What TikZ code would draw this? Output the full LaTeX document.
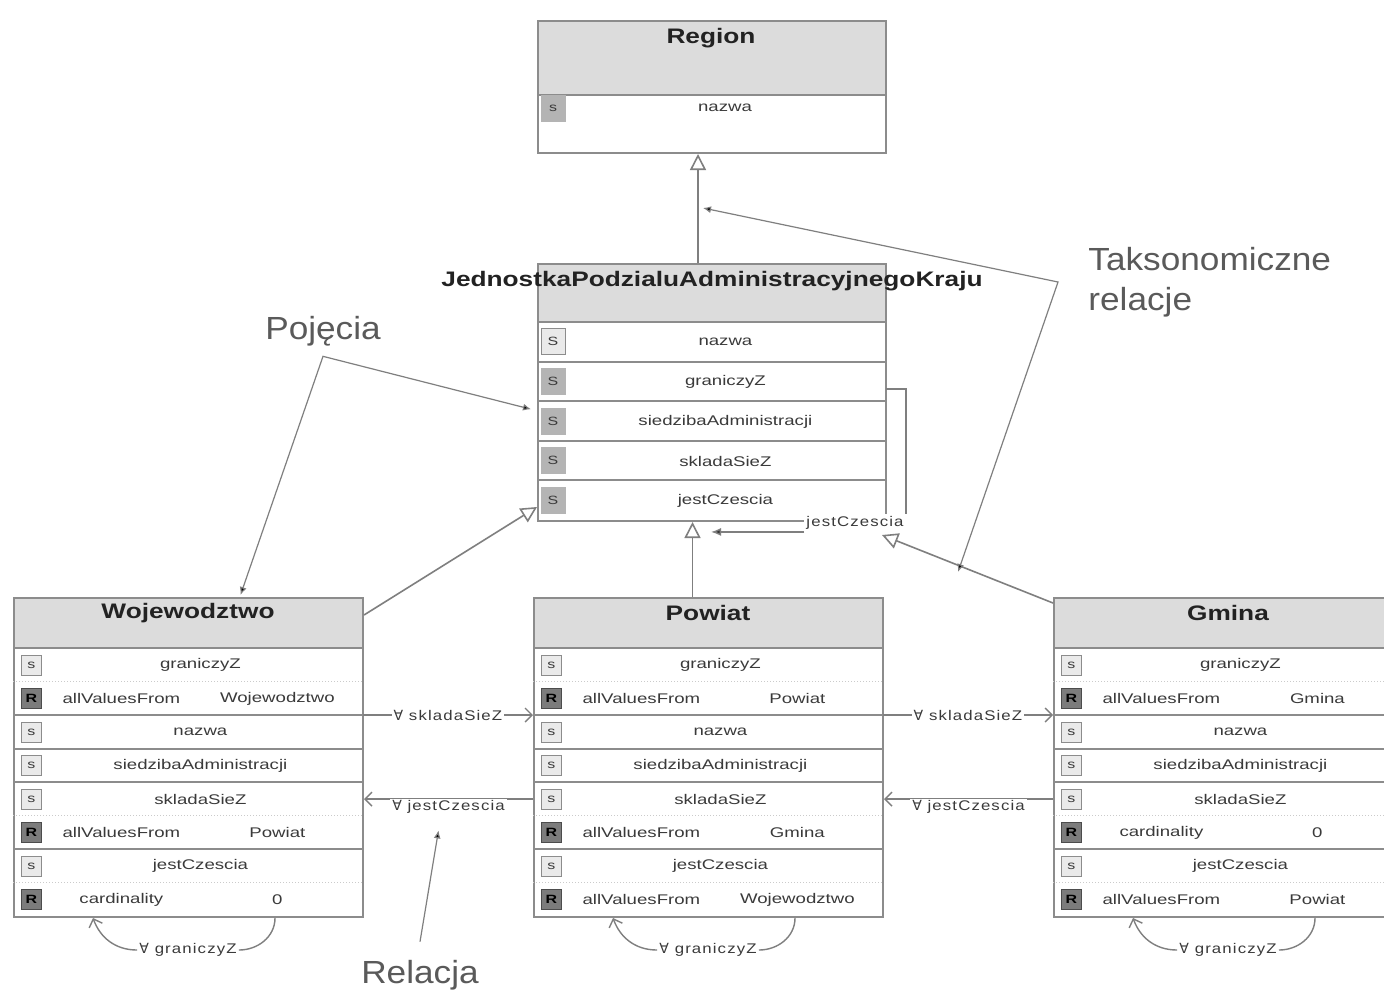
\documentclass[tikz,border=0pt]{standalone}
\usepackage{fontspec}
\setmainfont{Liberation Sans}
\newfontfamily\rowfont[FakeStretch=1.33]{Liberation Sans}
\newfontfamily\titlefont[FakeStretch=1.25]{Liberation Sans}
\newfontfamily\notefont[FakeStretch=1.1]{Liberation Sans}
\newfontfamily\relfont[FakeStretch=1.2,LetterSpace=8]{Liberation Sans}
\newfontfamily\symfont{DejaVu Sans}
\newcommand{\forallsym}{{\symfont ∀}}
\usetikzlibrary{arrows.meta, positioning, calc}
\definecolor{boxline}{HTML}{8C8C8C}
\definecolor{headfill}{HTML}{DCDCDC}
\definecolor{iconlight}{HTML}{EAEAEA}
\definecolor{iconmidfill}{HTML}{B4B4B4}
\definecolor{icondark}{HTML}{7C7C7C}
\definecolor{txtgray}{HTML}{3A3A3A}
\definecolor{titlegray}{HTML}{222222}
\definecolor{notegray}{HTML}{5A5A5A}
\definecolor{linegray}{HTML}{7F7F7F}
\tikzset{
  headbox/.style={
    rectangle, fill=headfill, inner sep=0pt, anchor=north west
  },
  classbox/.style={
    rectangle, draw=boxline, line width=1pt, inner sep=0pt, anchor=north west
  },
  classtitle/.style={
    font=\titlefont\fontsize{10.5}{12}\selectfont\bfseries, text=titlegray, inner sep=0pt
  },
  rowtxt/.style={
    font=\rowfont\fontsize{7}{8}\selectfont, text=txtgray, inner sep=0pt
  },
  rowbox/.style={
    rowtxt, rectangle, minimum width=162pt, minimum height=16.75pt, anchor=north west
  },
  centrow/.style={
    rowbox, minimum width=160pt, minimum height=19.8pt
  },
  iconbox/.style={
    rectangle, draw=boxline, fill=iconlight, minimum width=10pt, minimum height=10pt,
    inner sep=0pt, font=\rowfont\fontsize{6}{6}\selectfont, text=txtgray
  },
  iconmid/.style={
    iconbox, fill=iconmidfill, draw=iconmidfill
  },
  iconres/.style={
    iconbox, fill=icondark, draw=black!70, text=black, font=\rowfont\fontsize{6}{6}\selectfont\bfseries
  },
  sepline/.style={
    draw=boxline, line width=1pt
  },
  subsep/.style={
    draw=boxline!45, line width=0.5pt, densely dotted
  },
  genarrow/.style={
    draw=linegray, line width=0.8pt, -{Triangle[open, length=8pt, width=8pt]}
  },
  relarrow/.style={
    draw=linegray, line width=0.7pt, -{Straight Barb[length=3.5pt, width=7pt]}
  },
  relline/.style={
    draw=linegray, line width=0.7pt
  },
  selfarrow/.style={
    draw=linegray, line width=0.7pt, -{Latex[length=5pt, width=4pt, fill=black!80]}
  },
  rellbl/.style={
    font=\relfont\fontsize{7}{8}\selectfont, text=txtgray, fill=white, inner sep=1pt
  },
  notelbl/.style={
    font=\notefont\fontsize{16}{20}\selectfont, text=notegray, align=left, inner sep=0pt
  },
  notearrow/.style={
    draw=linegray, line width=0.6pt, {Latex[length=4pt, width=3.5pt, fill=black]}-{Latex[length=4pt, width=3.5pt, fill=black]}
  },
  noteptr/.style={
    draw=linegray, line width=0.6pt, -{Latex[length=4pt, width=3.5pt, fill=black]}
  }
}

\begin{document}
\begin{tikzpicture}[x=0.5pt, y=-0.5pt]
  \fill[white] (0,0) rectangle (1384,997);
  \useasboundingbox (0,0) rectangle (1384,997);
  \clip (0,0) rectangle (1384,997);

  % Region
  \node[headbox, minimum width=174pt, minimum height=37pt] (regionHead) at (537,20) {};
  \node[classbox, minimum width=174pt, minimum height=66pt] (region) at (537,20) {};
  \node[classtitle] (regionTitle) at (711,38) {Region};
  \draw[sepline] (region.west |- regionHead.south) -- (region.east |- regionHead.south);
  \node[iconmid, minimum width=12pt, minimum height=13pt] (regionIcon) at (553,108) {s};
  \node[rowtxt] (regionRow) at (725,108) {nazwa};

  % JednostkaPodzialuAdministracyjnegoKraju
  \node[headbox, minimum width=174pt, minimum height=29.5pt] (unitHead) at (537,263) {};
  \node[classbox, minimum width=174pt, minimum height=128.5pt] (unit) at (537,263) {};
  \node[classtitle] (unitTitle) at (712,281) {JednostkaPodzialuAdministracyjnegoKraju};
  \foreach \i/\ic/\txt in {1/iconbox/nazwa, 2/iconmid/graniczyZ, 3/iconmid/siedzibaAdministracji,
                           4/iconmid/skladaSieZ, 5/iconmid/jestCzescia} {
    \node[centrow] (unit-r\i) at (565,282.4+39.6*\i) {\txt};
    \node[\ic, minimum width=12pt, minimum height=13pt] (unit-i\i) at (553,302.2+39.6*\i) {S};
    \draw[sepline] (unit.west |- unit-r\i.north) -- (unit.east |- unit-r\i.north);
  }

  % Wojewodztwo, Powiat, Gmina
  \foreach \n/\x/\title/\ra/\kb/\vb/\kd/\vd in {
      woj/13/Wojewodztwo/Wojewodztwo/allValuesFrom/Powiat/cardinality/0,
      pow/533/Powiat/Powiat/allValuesFrom/Gmina/allValuesFrom/Wojewodztwo,
      gmi/1053/Gmina/Gmina/cardinality/0/allValuesFrom/Powiat} {
    \node[headbox, minimum width=174.5pt, minimum height=25.5pt] (\n-head) at (\x,597) {};
    \node[classbox, minimum width=174.5pt, minimum height=159.5pt] (\n) at (\x,597) {};
    \node[classtitle] (\n-title) at (\x+175,613) {\title};
    \foreach \i/\txt in {1/graniczyZ, 2/{}, 3/nazwa, 4/siedzibaAdministracji,
                         5/skladaSieZ, 6/{}, 7/jestCzescia, 8/{}}
      \node[rowbox] (\n-r\i) at (\x+25,614.5+33.5*\i) {\txt};
    \node[rowtxt] (\n-k2) at ([xshift=-39.5pt]\n-r2.center) {allValuesFrom};
    \node[rowtxt] (\n-v2) at ([xshift=38.5pt]\n-r2.center) {\ra};
    \node[rowtxt] (\n-k6) at ([xshift=-39.5pt]\n-r6.center) {\kb};
    \node[rowtxt] (\n-v6) at ([xshift=38.5pt]\n-r6.center) {\vb};
    \node[rowtxt] (\n-k8) at ([xshift=-39.5pt]\n-r8.center) {\kd};
    \node[rowtxt] (\n-v8) at ([xshift=38.5pt]\n-r8.center) {\vd};
    \foreach \i/\ic/\lt in {1/iconbox/s, 2/iconres/R, 3/iconbox/s, 4/iconbox/s,
                            5/iconbox/s, 6/iconres/R, 7/iconbox/s, 8/iconres/R}
      \node[\ic] (\n-i\i) at ([xshift=-84.5pt]\n-r\i.center) {\lt};
    \foreach \k in {1,3,4,5,7}
      \draw[sepline] (\n.west |- \n-r\k.north) -- (\n.east |- \n-r\k.north);
    \foreach \k in {2,6,8}
      \draw[subsep] (\n.west |- \n-r\k.north) -- (\n.east |- \n-r\k.north);
    % loop below the box
    \node[rellbl] (\n-loop) at (\x+175,950) {\forallsym\ graniczyZ};
    \draw[relline] ([xshift=131pt]\n.south west) to[out=-90, in=0] (\n-loop.east);
    \draw[relarrow] (\n-loop.west) to[out=180, in=-70] ([xshift=40pt]\n.south west);
  }

  % generalisation
  \draw[genarrow] ([xshift=-7pt]unit.north) -- ([xshift=-7pt]region.south);
  \draw[genarrow] ([yshift=-9pt]woj.north east) -- ([yshift=7.5pt]unit.south west);
  \draw[genarrow] ([xshift=-8pt]pow.north) -- ([xshift=-8pt]pow.north |- unit.south);
  \draw[genarrow] ([yshift=-3pt]gmi.north west) -- ([xshift=-2.5pt, yshift=-6.5pt]unit.south east);

  % self relation
  \node[rellbl] (selfLbl) at (855,523) {jestCzescia};
  \coordinate (selfEnd) at (711,531);
  \draw[relline] ([yshift=-3.5pt]unit-r2.east) -| (selfLbl.north east);
  \draw[selfarrow] (selfLbl.south west) -- (selfLbl.south west -| selfEnd);

  % relations between boxes
  \draw[relarrow] (woj-r3.north east) -- node[rellbl] (wpSklada) {\forallsym\ skladaSieZ} (pow.west |- pow-r3.north);
  \draw[relarrow] (pow.west |- pow-r5.center) -- node[rellbl, yshift=-4pt] (wpJest) {\forallsym\ jestCzescia} (woj-r5.east -| woj.east);
  \draw[relarrow] (pow-r3.north east) -- node[rellbl] (pgSklada) {\forallsym\ skladaSieZ} (gmi.west |- gmi-r3.north);
  \draw[relarrow] (gmi.west |- gmi-r5.center) -- node[rellbl, yshift=-4pt] (pgJest) {\forallsym\ jestCzescia} (pow-r5.east -| pow.east);

  % notes
  \node[notelbl, anchor=west] (taks) at (1088,282) {Taksonomiczne\\relacje};
  \coordinate (taksA) at (703,208);
  \coordinate (taksB) at (958,572);
  \draw[notearrow] (taksA) -- ([xshift=-15pt]taks.west) -- (taksB);

  \node[notelbl] (pojecia) at (323,331) {Pojęcia};
  \draw[notearrow] ([xshift=-17pt, yshift=-4pt]unit-r3.north west) -- ([yshift=-5pt]pojecia.south) -- ([xshift=26pt, yshift=1pt]woj.north);

  \node[notelbl] (relacja) at (420,975) {Relacja};
  \draw[noteptr] ([yshift=9pt]relacja.north) -- ([xshift=-5pt, yshift=-7pt]wpJest.south);
\end{tikzpicture}
\end{document}
